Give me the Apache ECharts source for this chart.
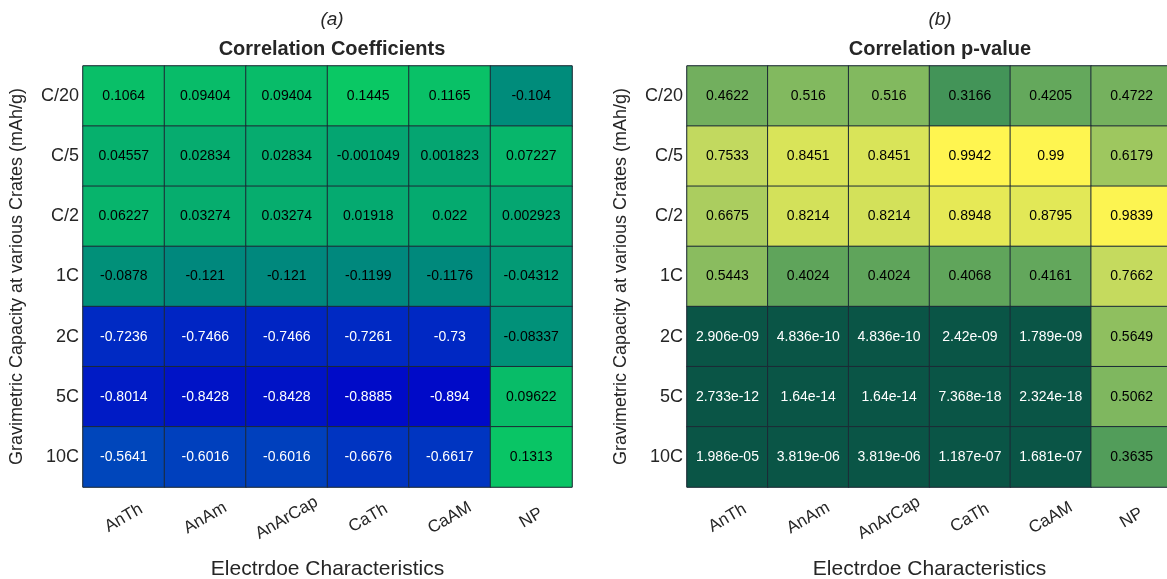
<!DOCTYPE html>
<html>
<head>
<meta charset="utf-8">
<script src="https://cdn.jsdelivr.net/npm/echarts@6/dist/echarts.min.js"></script>
<style>
  html, body { margin: 0; padding: 0; background: #fff; }
  #chart { width: 1167px; height: 579px; }
</style>
</head>
<body>
<div id="chart"></div>
<script>
// Electrode characteristics (columns) and C-rates (rows)
const characteristics = ['AnTh', 'AnAm', 'AnArCap', 'CaTh', 'CaAM', 'NP'];
const cRates = ['C/20', 'C/5', 'C/2', '1C', '2C', '5C', '10C'];

// Correlation coefficients, one row per C-rate
const coefC20 = [0.1064, 0.09404, 0.09404, 0.1445, 0.1165, -0.104];
const coefC5  = [0.04557, 0.02834, 0.02834, -0.001049, 0.001823, 0.07227];
const coefC2  = [0.06227, 0.03274, 0.03274, 0.01918, 0.022, 0.002923];
const coef1C  = [-0.0878, -0.121, -0.121, -0.1199, -0.1176, -0.04312];
const coef2C  = [-0.7236, -0.7466, -0.7466, -0.7261, -0.73, -0.08337];
const coef5C  = [-0.8014, -0.8428, -0.8428, -0.8885, -0.894, 0.09622];
const coef10C = [-0.5641, -0.6016, -0.6016, -0.6676, -0.6617, 0.1313];

// Correlation p-values, one row per C-rate
const pC20 = [0.4622, 0.516, 0.516, 0.3166, 0.4205, 0.4722];
const pC5  = [0.7533, 0.8451, 0.8451, 0.9942, 0.99, 0.6179];
const pC2  = [0.6675, 0.8214, 0.8214, 0.8948, 0.8795, 0.9839];
const p1C  = [0.5443, 0.4024, 0.4024, 0.4068, 0.4161, 0.7662];
const p2C  = [2.906e-09, 4.836e-10, 4.836e-10, 2.42e-09, 1.789e-09, 0.5649];
const p5C  = [2.733e-12, 1.64e-14, 1.64e-14, 7.368e-18, 2.324e-18, 0.5062];
const p10C = [1.986e-05, 3.819e-06, 3.819e-06, 1.187e-07, 1.681e-07, 0.3635];

const coefRows = [coefC20, coefC5, coefC2, coef1C, coef2C, coef5C, coef10C];
const pRows = [pC20, pC5, pC2, p1C, p2C, p5C, p10C];

// %.4g style number formatting
function g4(v) {
  if (v === 0) return '0';
  const e = Math.floor(Math.log10(Math.abs(v)));
  if (e < -4 || e >= 4) {
    let s = v.toExponential(3);
    let [m, ex] = s.split('e');
    if (m.indexOf('.') >= 0) m = m.replace(/0+$/, '').replace(/\.$/, '');
    const sign = ex[0] === '-' ? '-' : '+';
    let digits = ex.replace(/^[+-]/, '');
    if (digits.length < 2) digits = '0' + digits;
    return m + 'e' + sign + digits;
  }
  return String(parseFloat(v.toPrecision(4)));
}

function buildData(rows, darkTest) {
  const out = [];
  rows.forEach((row, r) => {
    row.forEach((v, c) => {
      out.push({
        value: [c, r, v],
        label: { color: darkTest(v) ? '#ffffff' : '#000000' }
      });
    });
  });
  return out;
}

const coefData = buildData(coefRows, v => v < -0.3);
const pData = buildData(pRows, v => v < 0.01);

const flatCoef = coefRows.flat();
const flatP = pRows.flat();

const FONT = 'Liberation Sans, Arial, sans-serif';
const TXT = '#262626';

function xAxisFor(gi) {
  return {
    type: 'category', gridIndex: gi, data: characteristics, position: 'bottom',
    axisLine: { show: false }, axisTick: { show: false }, splitLine: { show: false },
    axisLabel: { rotate: 30, align: 'center', verticalAlign: 'middle', margin: 31,
                 fontSize: 17, color: TXT, fontFamily: FONT, interval: 0 },
    name: 'Electrdoe Characteristics', nameLocation: 'middle', nameGap: 72,
    nameTextStyle: { fontSize: 21, color: TXT, fontFamily: FONT }
  };
}
function yAxisFor(gi) {
  return {
    type: 'category', gridIndex: gi, data: cRates, inverse: true,
    axisLine: { show: false }, axisTick: { show: false }, splitLine: { show: false },
    axisLabel: { fontSize: 18, color: TXT, fontFamily: FONT, margin: 4 },
    name: 'Gravimetric Capacity at various Crates (mAh/g)', nameLocation: 'middle', nameGap: 57,
    nameTextStyle: { fontSize: 18, color: TXT, fontFamily: FONT }
  };
}

const cellLabel = {
  show: true, fontSize: 14, fontFamily: FONT,
  formatter: p => g4(p.value[2])
};

const chart = echarts.init(document.getElementById('chart'), null, { renderer: 'canvas' });
chart.setOption({
  backgroundColor: '#ffffff',
  animation: false,
  title: [
    { text: '(a)', left: 327, top: 5, textAlign: 'center',
      textStyle: { fontSize: 19, fontStyle: 'italic', fontWeight: 'normal', color: TXT, fontFamily: FONT } },
    { text: 'Correlation Coefficients', left: 327, top: 34, textAlign: 'center',
      textStyle: { fontSize: 20, fontWeight: 'bold', color: TXT, fontFamily: FONT } },
    { text: '(b)', left: 935, top: 5, textAlign: 'center',
      textStyle: { fontSize: 19, fontStyle: 'italic', fontWeight: 'normal', color: TXT, fontFamily: FONT } },
    { text: 'Correlation p-value', left: 935, top: 34, textAlign: 'center',
      textStyle: { fontSize: 20, fontWeight: 'bold', color: TXT, fontFamily: FONT } }
  ],
  grid: [
    { left: 83, top: 66, width: 489, height: 421, outerBoundsMode: 'none', containLabel: false,
      show: true, borderColor: '#8a8a8a', borderWidth: 1, backgroundColor: 'transparent' },
    { left: 687, top: 66, width: 485, height: 421, outerBoundsMode: 'none', containLabel: false,
      show: true, borderColor: '#8a8a8a', borderWidth: 1, backgroundColor: 'transparent' }
  ],
  xAxis: [xAxisFor(0), xAxisFor(1)],
  yAxis: [yAxisFor(0), yAxisFor(1)],
  visualMap: [
    { type: 'continuous', show: false, seriesIndex: 0, dimension: 2,
      min: Math.min(...flatCoef), max: Math.max(...flatCoef),
      inRange: { color: ['#000ac8', '#003ac0', '#0066ac', '#00897c', '#0ac864'] } },
    { type: 'continuous', show: false, seriesIndex: 1, dimension: 2,
      min: Math.min(...flatP), max: Math.max(...flatP),
      inRange: { color: ['#0a5546', '#2d8755', '#7db65f', '#c0d85f', '#fff550'] } }
  ],
  series: [
    { type: 'heatmap', xAxisIndex: 0, yAxisIndex: 0, data: coefData, label: cellLabel,
      itemStyle: { borderColor: '#1c2a36', borderWidth: 1 } },
    { type: 'heatmap', xAxisIndex: 1, yAxisIndex: 1, data: pData, label: cellLabel,
      itemStyle: { borderColor: '#1c2a36', borderWidth: 1 } }
  ]
});
</script>
</body>
</html>
